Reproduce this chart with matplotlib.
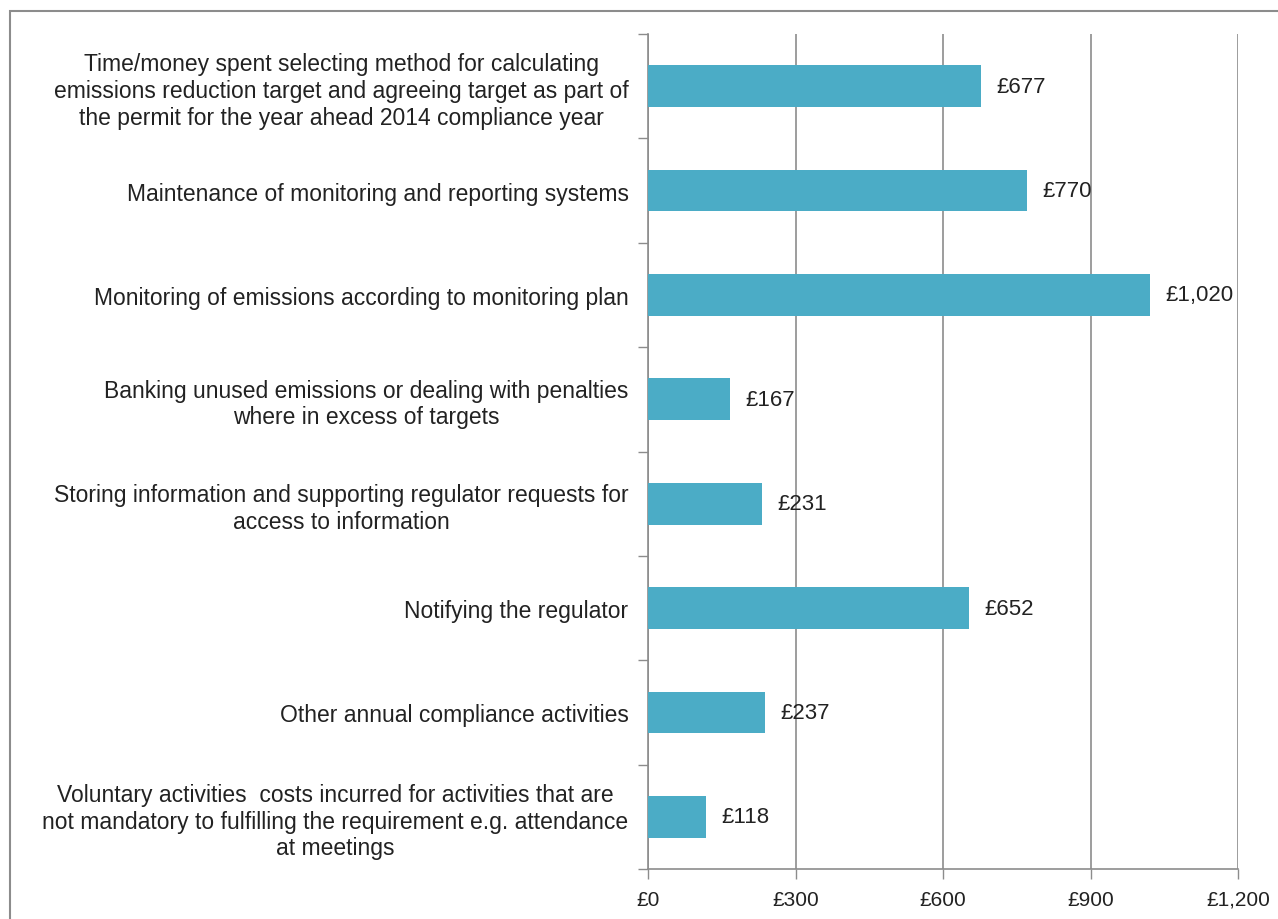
import matplotlib.pyplot as plt
from matplotlib.patches import Rectangle
from matplotlib.ticker import FixedLocator, FuncFormatter

plt.rcParams['font.family'] = ['Liberation Sans', 'DejaVu Sans']

categories = [
    "Time/money spent selecting method for calculating\nemissions reduction target and agreeing target as part of\nthe permit for the year ahead 2014 compliance year",
    "Maintenance of monitoring and reporting systems",
    "Monitoring of emissions according to monitoring plan",
    "Banking unused emissions or dealing with penalties\nwhere in excess of targets",
    "Storing information and supporting regulator requests for\naccess to information",
    "Notifying the regulator",
    "Other annual compliance activities",
    "Voluntary activities  costs incurred for activities that are\nnot mandatory to fulfilling the requirement e.g. attendance\nat meetings",
]
costs = [677, 770, 1020, 167, 231, 652, 237, 118]
xticks = [0, 300, 600, 900, 1200]

bar_color = '#4BACC6'
grey = '#8C8C8C'

fig = plt.figure(figsize=(12.78, 9.2), dpi=100)
# chart border (frame is cut at right/bottom)
fig.patches.append(Rectangle((10/1278, -0.1), 1.2, 0.1 + (1 - 12/920),
                             transform=fig.transFigure, fill=False,
                             edgecolor='#8C8C8C', linewidth=1.5))

ax = fig.add_axes([648/1278, 1 - 870/920, 590/1278, 835/920])

n = len(categories)
ypos = list(range(n))
ax.barh(ypos, costs, height=0.4, color=bar_color, zorder=3)
ax.set_ylim(n - 0.5, -0.5)
ax.set_xlim(0, 1200)

for y, v in zip(ypos, costs):
    ax.text(v + 32, y, '£{:,}'.format(v), va='center', ha='left',
            fontsize=16, color='#222222', zorder=4)

ax.set_yticks(ypos)
ax.set_yticklabels(categories, fontsize=16.5, color='#222222', ha='right',
                   linespacing=1.2)
ax.tick_params(axis='y', which='major', length=0, pad=14)
ax.yaxis.set_minor_locator(FixedLocator([i - 0.5 for i in range(n + 1)]))
ax.tick_params(axis='y', which='minor', length=7, color=grey, width=1)
for t in ax.get_yticklabels():
    t.set_multialignment('center')

ax.set_xticks(xticks)
ax.xaxis.set_major_formatter(FuncFormatter(lambda v, p: '£{:,}'.format(int(v))))
ax.tick_params(axis='x', length=7, color=grey, width=1, labelsize=15,
               labelcolor='#222222', pad=8)

ax.grid(axis='x', color=grey, linewidth=1.2, zorder=0)
for s in ['top', 'right']:
    ax.spines[s].set_visible(False)
for s in ['left', 'bottom']:
    ax.spines[s].set_color(grey)
    ax.spines[s].set_linewidth(1.2)

fig.savefig('out.png', dpi=100)
